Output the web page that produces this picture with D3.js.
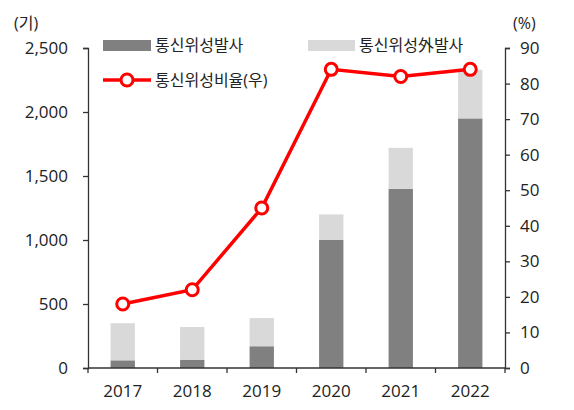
<!DOCTYPE html>
<html>
<head>
<meta charset="utf-8">
<script src="https://cdn.jsdelivr.net/npm/d3@7"></script>
<style>
  body { margin: 0; background: #fff; }
  svg text { font-family: "Open Sans", "Noto Sans CJK KR", sans-serif; fill: #222; }
</style>
</head>
<body>
<svg id="chart"></svg>
<script>
const years = ["2017", "2018", "2019", "2020", "2021", "2022"];
const commLaunch = [60, 65, 170, 1000, 1400, 1950];
const otherLaunch = [290, 255, 220, 200, 320, 380];
const commRatio = [18, 22, 45, 84, 82, 84];
const leftTicks = [0, 500, 1000, 1500, 2000, 2500];
const rightTicks = [0, 10, 20, 30, 40, 50, 60, 70, 80, 90];

const width = 574;
const height = 410;
const plotLeft = 88, plotRight = 505, plotTop = 48, plotBottom = 368;

const svg = d3.select("#chart").attr("width", width).attr("height", height);

const x = d3.scaleBand().domain(years).range([plotLeft, plotRight]).paddingInner(0.65).paddingOuter(0.325);
const yL = d3.scaleLinear().domain([0, 2500]).range([plotBottom, plotTop]);
const yR = d3.scaleLinear().domain([0, 90]).range([plotBottom, plotTop]);

// stacked bars
const stacked = years.map((y, i) => ({year: y, comm: commLaunch[i], other: otherLaunch[i]}));
const series = d3.stack().keys(["comm", "other"])(stacked);
const colors = {comm: "#808080", other: "#d9d9d9"};

svg.append("g").selectAll("g")
  .data(series)
  .join("g")
  .attr("fill", d => colors[d.key])
  .selectAll("rect")
  .data(d => d)
  .join("rect")
  .attr("x", d => x(d.data.year))
  .attr("width", x.bandwidth())
  .attr("y", d => yL(d[1]))
  .attr("height", d => yL(d[0]) - yL(d[1]));

// axes
const axisColor = "#333";
const gl = svg.append("g").attr("transform", `translate(${plotLeft},0)`)
  .call(d3.axisLeft(yL).tickValues(leftTicks).tickFormat(d3.format(",")).tickSize(5).tickPadding(15));
const gr = svg.append("g").attr("transform", `translate(${plotRight},0)`)
  .call(d3.axisRight(yR).tickValues(rightTicks).tickSize(5).tickPadding(10));

// x axis, ticks sit on the band boundaries
const gx = svg.append("g").attr("transform", `translate(0,${plotBottom})`);
gx.append("line").attr("x1", plotLeft).attr("x2", plotRight).attr("stroke", axisColor).attr("stroke-width", 1.3);
const step = x.step();
const bounds = d3.range(years.length + 1).map(i => plotLeft + i * step);
gx.selectAll(".xt").data(bounds).join("line")
  .attr("x1", d => d).attr("x2", d => d).attr("y1", 0).attr("y2", 5)
  .attr("stroke", axisColor).attr("stroke-width", 1.3);
gx.selectAll(".xl").data(years).join("text")
  .attr("x", d => x(d) + x.bandwidth() / 2)
  .attr("y", 29)
  .attr("text-anchor", "middle")
  .attr("font-size", 17)
  .text(d => d);

[gl, gr].forEach(g => {
  g.select(".domain").attr("stroke", axisColor).attr("stroke-width", 1.3);
  g.selectAll(".tick line").attr("stroke", axisColor).attr("stroke-width", 1.3);
  g.selectAll(".tick text").attr("font-size", 17).attr("fill", "#222");
});

// ratio line
const line = d3.line()
  .x((d, i) => x(years[i]) + x.bandwidth() / 2)
  .y(d => yR(d));
svg.append("path")
  .datum(commRatio)
  .attr("d", line)
  .attr("fill", "none")
  .attr("stroke", "#ff0000")
  .attr("stroke-width", 3.5);
svg.selectAll(".pt").data(commRatio).join("circle")
  .attr("cx", (d, i) => x(years[i]) + x.bandwidth() / 2)
  .attr("cy", d => yR(d))
  .attr("r", 6)
  .attr("fill", "#fff")
  .attr("stroke", "#ff0000")
  .attr("stroke-width", 3);

// unit labels
svg.append("text").attr("x", 14).attr("y", 29).attr("font-size", 16).text("(기)");
svg.append("text").attr("x", 513).attr("y", 29).attr("font-size", 16).text("(%)");

// legend
const lg = svg.append("g");
lg.append("rect").attr("x", 103).attr("y", 40).attr("width", 48).attr("height", 11).attr("fill", colors.comm);
lg.append("text").attr("x", 155).attr("y", 51).attr("font-size", 16).text("통신위성발사");
lg.append("rect").attr("x", 308).attr("y", 40).attr("width", 47).attr("height", 11).attr("fill", colors.other);
lg.append("text").attr("x", 359).attr("y", 51).attr("font-size", 16).text("통신위성外발사");
lg.append("line").attr("x1", 103).attr("x2", 151).attr("y1", 80).attr("y2", 80)
  .attr("stroke", "#ff0000").attr("stroke-width", 3.5);
lg.append("circle").attr("cx", 127).attr("cy", 80).attr("r", 6)
  .attr("fill", "#fff").attr("stroke", "#ff0000").attr("stroke-width", 3);
lg.append("text").attr("x", 155).attr("y", 86).attr("font-size", 16).text("통신위성비율(우)");
</script>
</body>
</html>
